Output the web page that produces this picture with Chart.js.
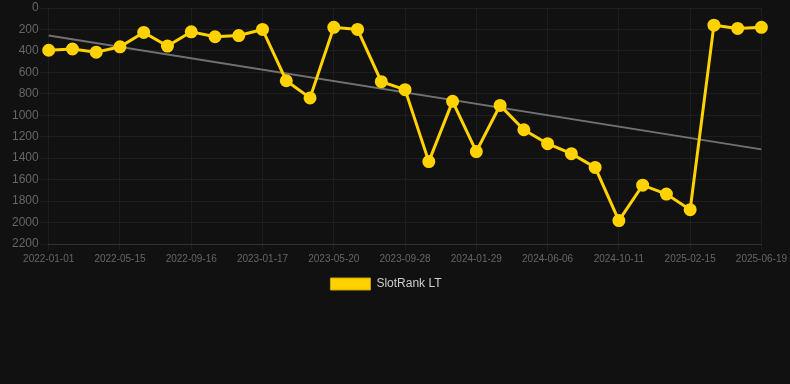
<!DOCTYPE html>
<html>
<head>
<meta charset="utf-8">
<script src="https://cdn.jsdelivr.net/npm/chart.js@4/dist/chart.umd.min.js"></script>
<style>
html,body{margin:0;padding:0;background:#111111;}
#wrap{position:relative;width:790px;height:300px;}
</style>
</head>
<body>
<div id="wrap"><canvas id="c"></canvas></div>
<script>
const dates = [
  "2022-01-01","2022-02-15","2022-03-31","2022-05-15","2022-06-26","2022-08-06",
  "2022-09-16","2022-10-27","2022-12-07","2023-01-17","2023-02-27","2023-04-09",
  "2023-05-20","2023-07-03","2023-08-16","2023-09-28","2023-11-08","2023-12-19",
  "2024-01-29","2024-03-12","2024-04-24","2024-06-06","2024-07-18","2024-08-30",
  "2024-10-11","2024-11-22","2025-01-04","2025-02-15","2025-03-28","2025-05-08",
  "2025-06-19"
];
const rankValues = [
  394, 382, 412, 362, 228, 355, 222, 268, 257, 200, 678, 838,
  180, 200, 687, 761, 1432, 870, 1338, 908, 1135, 1265, 1358, 1486,
  1982, 1652, 1735, 1880, 160, 190, 180
];
const trendValues = [257].concat(new Array(29).fill(null), [1318]);
const yTicks = [0,200,400,600,800,1000,1200,1400,1600,1800,2000,2200];

new Chart(document.getElementById('c'), {
  type: 'line',
  data: {
    labels: dates,
    datasets: [
      {
        label: 'SlotRank LT',
        data: rankValues,
        borderColor: '#FFD200',
        backgroundColor: '#FFD200',
        borderWidth: 3,
        pointRadius: 5,
        pointHoverRadius: 5,
        tension: 0,
        order: 1
      },
      {
        label: 'trend',
        data: trendValues,
        borderColor: 'rgba(130,130,130,0.85)',
        borderWidth: 2,
        pointRadius: 0,
        spanGaps: true,
        tension: 0,
        order: 2
      }
    ]
  },
  options: {
    responsive: true,
    maintainAspectRatio: false,
    animation: false,
    layout: { padding: { left: 10, right: 28, top: 0, bottom: 0 } },
    scales: {
      x: {
        grid: { color: 'rgba(255,255,255,0.05)', drawTicks: true, tickLength: 6 },
        border: { color: 'rgba(255,255,255,0.1)' },
        ticks: {
          color: '#666',
          font: { family: 'Liberation Sans, Arial, sans-serif', size: 10 },
          autoSkip: true,
          maxTicksLimit: 11,
          maxRotation: 0
        }
      },
      y: {
        reverse: true,
        min: 0,
        max: 2200,
        afterBuildTicks: (axis) => { axis.ticks = yTicks.map(v => ({ value: v })); },
        grid: { color: 'rgba(255,255,255,0.05)', drawTicks: true, tickLength: 8 },
        border: { display: false },
        ticks: {
          color: '#666',
          padding: 2,
          font: { family: 'Liberation Sans, Arial, sans-serif', size: 12, lineHeight: 0.8 },
          callback: (v) => String(v)
        }
      }
    },
    plugins: {
      legend: {
        position: 'bottom',
        labels: {
          color: '#ccc',
          boxWidth: 40,
          boxHeight: 12,
          font: { family: 'Liberation Sans, Arial, sans-serif', size: 12 },
          generateLabels: (chart) => Chart.defaults.plugins.legend.labels.generateLabels(chart)
            .filter(it => it.text === 'SlotRank LT')
            .map(it => Object.assign(it, { lineWidth: 1, strokeStyle: '#C9A600' }))
        }
      },
      tooltip: { enabled: false }
    }
  }
});
</script>
</body>
</html>
